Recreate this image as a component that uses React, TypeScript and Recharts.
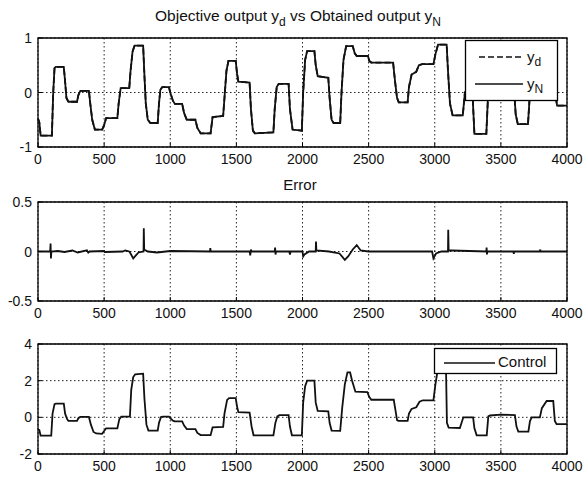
import React from "react";
import { CartesianGrid, Line, LineChart, ReferenceArea, XAxis, YAxis } from "recharts";

const FONT = '"Liberation Sans", Arial, Helvetica, sans-serif';

// sample index axis, shared by all three panels
const sampleTicks = [0, 500, 1000, 1500, 2000, 2500, 3000, 3500, 4000];
const outputTicks = [-1, 0, 1];
const errorTicks = [-0.5, 0, 0.5];
const controlTicks = [-2, 0, 2, 4];

// [sample, value]. y_d and y_N overlap at this scale.
const outputPts: [number, number][] = [
  [0, -0.48], [10, -0.55], [20, -0.79], [105, -0.79], [115, 0.0], [125, 0.45], [135, 0.47],
  [195, 0.47], [205, 0.2], [215, -0.1], [230, -0.17], [295, -0.17], [305, -0.05], [320, 0.03],
  [385, 0.03], [395, -0.2], [410, -0.5], [430, -0.68], [485, -0.68], [500, -0.6], [515, -0.47],
  [600, -0.47], [610, -0.2], [625, 0.08], [690, 0.08], [700, 0.4], [715, 0.75], [730, 0.86],
  [795, 0.86], [805, 0.3], [815, -0.2], [830, -0.5], [850, -0.56], [905, -0.56], [915, -0.2],
  [925, 0.05], [940, 0.1], [990, 0.1], [1000, 0.0], [1020, -0.15], [1035, -0.21], [1090, -0.21],
  [1105, -0.38], [1125, -0.5], [1190, -0.5], [1205, -0.65], [1230, -0.75], [1305, -0.75],
  [1320, -0.45], [1400, -0.43], [1410, -0.1], [1425, 0.4], [1440, 0.58], [1495, 0.58],
  [1505, 0.35], [1515, 0.2], [1600, 0.18], [1610, -0.3], [1625, -0.7], [1640, -0.75],
  [1780, -0.73], [1790, -0.3], [1805, 0.1], [1820, 0.16], [1895, 0.16], [1905, -0.3],
  [1925, -0.68], [1995, -0.7], [2005, 0.0], [2020, 0.6], [2035, 0.76], [2090, 0.76], [2100, 0.5],
  [2115, 0.3], [2195, 0.27], [2205, -0.1], [2220, -0.5], [2235, -0.56], [2285, -0.56],
  [2295, 0.0], [2310, 0.6], [2330, 0.85], [2380, 0.85], [2395, 0.72], [2410, 0.67], [2495, 0.67],
  [2505, 0.58], [2520, 0.55], [2685, 0.55], [2700, 0.2], [2715, -0.1], [2728, -0.18],
  [2795, -0.18], [2805, 0.1], [2825, 0.33], [2860, 0.38], [2880, 0.5], [2905, 0.52], [2990, 0.52],
  [3005, 0.7], [3025, 0.88], [3090, 0.88], [3100, 0.4], [3115, -0.2], [3135, -0.42],
  [3212, -0.42], [3228, 0.0], [3285, 0.0], [3300, -0.76], [3390, -0.76], [3405, 0.05],
  [3600, 0.05], [3612, -0.4], [3628, -0.58], [3705, -0.58], [3720, 0.0], [3795, 0.0],
  [3840, 0.5], [3895, 0.5], [3910, 0.0], [3925, -0.24], [4000, -0.24],
];

const errorPts: [number, number][] = [
  [0, 0], [92, 0], [95, 0.08], [98, -0.07], [101, 0], [150, 0.005], [200, -0.005], [260, 0.01],
  [300, -0.01], [370, 0.012], [380, -0.012], [390, 0], [500, 0.005], [505, -0.005], [640, 0],
  [660, 0.01], [690, 0], [700, -0.02], [720, -0.07], [740, -0.04], [760, -0.01], [798, 0],
  [800, 0.235], [803, 0.02], [830, 0], [900, -0.01], [1000, 0.005], [1300, 0], [1303, 0.035],
  [1306, 0], [1600, 0], [1605, -0.04], [1610, 0.02], [1615, 0], [1790, 0], [1793, 0.04],
  [1796, -0.03], [1800, 0], [1900, 0], [1905, -0.03], [1910, 0], [2000, 0], [2005, -0.05],
  [2015, -0.03], [2050, 0], [2100, 0], [2102, 0.1], [2105, 0.01], [2200, 0], [2280, -0.02],
  [2320, -0.085], [2345, -0.05], [2380, 0.02], [2410, 0.065], [2440, 0.01], [2500, 0],
  [2980, 0], [2990, -0.07], [3010, -0.02], [3050, 0], [3100, 0], [3102, 0.22], [3105, 0.01],
  [3130, 0.01], [3390, 0], [3392, 0.04], [3395, -0.03], [3398, 0], [3595, 0], [3598, -0.025],
  [3600, 0], [3795, 0], [3798, 0.02], [3800, 0], [4000, 0],
];

const controlPts: [number, number][] = [
  [0, -0.65], [10, -0.7], [20, -1.0], [100, -1.0], [110, 0.2], [125, 0.72], [135, 0.75],
  [195, 0.75], [205, 0.2], [220, -0.1], [230, -0.19], [295, -0.19], [305, -0.05], [320, 0.02],
  [385, 0.02], [400, -0.4], [420, -0.8], [440, -0.88], [485, -0.9], [500, -0.75], [515, -0.6],
  [600, -0.6], [615, -0.1], [630, 0.04], [695, 0.04], [705, 1.5], [720, 2.2], [735, 2.35],
  [795, 2.38], [805, 1.0], [820, -0.4], [835, -0.72], [905, -0.72], [915, -0.3], [930, 0.02],
  [945, 0.04], [990, 0.04], [1000, -0.05], [1020, -0.18], [1035, -0.22], [1090, -0.22],
  [1105, -0.45], [1125, -0.64], [1190, -0.64], [1205, -0.85], [1230, -0.97], [1305, -0.97],
  [1320, -0.55], [1400, -0.52], [1410, 0.2], [1430, 0.95], [1445, 1.05], [1495, 1.05],
  [1505, 0.6], [1515, 0.28], [1600, 0.26], [1615, -0.5], [1630, -0.98], [1780, -0.98],
  [1795, -0.3], [1810, 0.05], [1825, 0.12], [1895, 0.12], [1905, -0.5], [1920, -0.98],
  [1995, -0.98], [2005, 0.8], [2020, 1.7], [2035, 2.0], [2090, 2.0], [2100, 0.8], [2115, 0.35],
  [2195, 0.32], [2205, -0.3], [2220, -0.72], [2285, -0.74], [2300, 0.5], [2320, 1.8],
  [2340, 2.45], [2360, 2.45], [2375, 2.0], [2400, 1.4], [2490, 1.38], [2505, 1.1], [2520, 0.96],
  [2690, 0.96], [2705, 0.3], [2715, -0.15], [2725, -0.19], [2795, -0.19], [2805, 0.2],
  [2825, 0.46], [2860, 0.55], [2885, 0.85], [2910, 0.93], [2990, 0.93], [3005, 1.8],
  [3025, 2.7], [3085, 2.7], [3092, -0.3], [3105, -0.56], [3190, -0.58], [3216, 0.0],
  [3290, 0.0], [3300, -0.6], [3317, -0.98], [3393, -0.98], [3405, 0.05], [3418, 0.1],
  [3500, 0.15], [3606, 0.12], [3618, -0.5], [3632, -0.78], [3708, -0.78], [3720, -0.2],
  [3733, 0.0], [3795, 0.0], [3810, 0.5], [3846, 0.89], [3896, 0.89], [3908, -0.2],
  [3921, -0.37], [4000, -0.37],
];

const outputData = outputPts.map(([t, v]) => ({ t, yd: v, yN: v }));
const errorData = errorPts.map(([t, v]) => ({ t, err: v }));
const controlData = controlPts.map(([t, v]) => ({ t, ctrl: v }));

function XTick(props: any) {
  const { x, y, payload } = props;
  return (
    <g>
      <line x1={x} x2={x} y1={y - 7} y2={y - 11} stroke="#000" />
      <text x={x} y={y} dy="0.71em" textAnchor="middle" fontSize={14} fill="#111" fontFamily={FONT}>
        {payload.value}
      </text>
    </g>
  );
}

function YTick(props: any) {
  const { x, y, payload } = props;
  return (
    <g>
      <line x1={x + 6} x2={x + 10} y1={y} y2={y} stroke="#000" />
      <text x={x} y={y} dy="0.36em" textAnchor="end" fontSize={14} fill="#111" fontFamily={FONT}>
        {payload.value}
      </text>
    </g>
  );
}

const grid = <CartesianGrid stroke="#222" strokeDasharray="1.5 2.5" />;

function xAxis() {
  return (
    <XAxis
      type="number"
      dataKey="t"
      domain={[0, 4000]}
      ticks={sampleTicks}
      interval={0}
      height={23}
      tickSize={0}
      tickMargin={7}
      tickLine={false}
      axisLine={false}
      tick={XTick}
    />
  );
}

function yAxis(domain: number[], ticks: number[]) {
  return (
    <YAxis
      type="number"
      domain={domain}
      ticks={ticks}
      interval={0}
      width={38}
      tickSize={0}
      tickMargin={6}
      tickLine={false}
      axisLine={false}
      tick={YTick}
    />
  );
}

export default function App() {
  return (
    <div style={{ position: "absolute", left: 0, top: 0, width: 584, height: 477, background: "#fff" }}>
      <div style={{ position: "absolute", left: 0, top: 0 }}>
        <LineChart width={584} height={170} data={outputData} margin={{ top: 38, right: 17, bottom: 0, left: 0 }}>
          {grid}
          {xAxis()}
          {yAxis([-1, 1], outputTicks)}
          <ReferenceArea x1={0} x2={4000} y1={-1} y2={1} fill="none" stroke="#000" strokeWidth={1.3} ifOverflow="visible" />
          <Line type="linear" dataKey="yd" stroke="#111" strokeWidth={1.8} strokeDasharray="6 3" dot={false} isAnimationActive={false} />
          <Line type="linear" dataKey="yN" stroke="#111" strokeWidth={1.8} dot={false} isAnimationActive={false} />
        </LineChart>
      </div>
      <div style={{ position: "absolute", left: 0, top: 170 }}>
        <LineChart width={584} height={154} data={errorData} margin={{ top: 32, right: 17, bottom: 0, left: 0 }}>
          {grid}
          {xAxis()}
          {yAxis([-0.5, 0.5], errorTicks)}
          <ReferenceArea x1={0} x2={4000} y1={-0.5} y2={0.5} fill="none" stroke="#000" strokeWidth={1.3} ifOverflow="visible" />
          <Line type="linear" dataKey="err" stroke="#111" strokeWidth={1.8} dot={false} isAnimationActive={false} />
        </LineChart>
      </div>
      <div style={{ position: "absolute", left: 0, top: 324 }}>
        <LineChart width={584} height={153} data={controlData} margin={{ top: 20, right: 17, bottom: 0, left: 0 }}>
          {grid}
          {xAxis()}
          {yAxis([-2, 4], controlTicks)}
          <ReferenceArea x1={0} x2={4000} y1={-2} y2={4} fill="none" stroke="#000" strokeWidth={1.3} ifOverflow="visible" />
          <Line type="linear" dataKey="ctrl" stroke="#111" strokeWidth={1.8} dot={false} isAnimationActive={false} />
        </LineChart>
      </div>
      <svg
        width={584}
        height={477}
        style={{ position: "absolute", left: 0, top: 0, pointerEvents: "none" }}
        fontFamily={FONT}
        fill="#111"
      >
        <text x={298} y={21} textAnchor="middle" fontSize={15.5}>
          Objective output y<tspan dy={5} fontSize={12}>d</tspan>
          <tspan dy={-5}> vs Obtained output y</tspan>
          <tspan dy={5} fontSize={12}>N</tspan>
        </text>
        <text x={300} y={190} textAnchor="middle" fontSize={15}>
          Error
        </text>

        <rect x={465.5} y={40.5} width={92} height={60} fill="#fff" stroke="#000" strokeWidth={1.3} />
        <line x1={479} x2={523} y1={57} y2={57} stroke="#111" strokeWidth={1.3} strokeDasharray="6 3" />
        <text x={527} y={62} fontSize={15}>
          y<tspan dy={4} fontSize={12}>d</tspan>
        </text>
        <line x1={475} x2={523} y1={84} y2={84} stroke="#111" strokeWidth={1.3} />
        <text x={527} y={89} fontSize={15}>
          y<tspan dy={4} fontSize={12}>N</tspan>
        </text>

        <rect x={434.5} y={348.5} width={122} height={25} fill="#fff" stroke="#000" strokeWidth={1.3} />
        <line x1={444} x2={495} y1={363} y2={363} stroke="#111" strokeWidth={1.3} />
        <text x={498} y={367} fontSize={15}>
          Control
        </text>
      </svg>
    </div>
  );
}
